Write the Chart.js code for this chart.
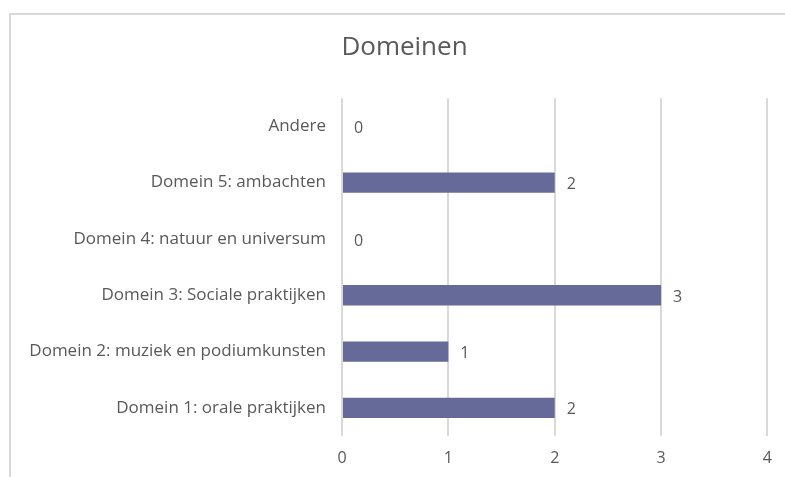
<!DOCTYPE html>
<html>
<head>
<meta charset="utf-8">
<script src="https://cdn.jsdelivr.net/npm/chart.js@4"></script>
<style>
  html, body { margin: 0; padding: 0; background: #fff; }
  #wrap { position: relative; width: 785px; height: 477px; overflow: hidden; }
  #frame { position: absolute; left: 9px; top: 13px; width: 800px; height: 500px;
           border-left: 2px solid #d9d9d9; border-top: 2px solid #d9d9d9; }
  canvas { position: absolute; left: 0; top: 0; }
</style>
</head>
<body>
<div id="wrap">
  <div id="frame"></div>
  <canvas id="domChart" width="785" height="477"></canvas>
</div>
<script>
const categories = [
    "Andere",
    "Domein 5: ambachten",
    "Domein 4: natuur en universum",
    "Domein 3: Sociale praktijken",
    "Domein 2: muziek en podiumkunsten",
    "Domein 1: orale praktijken"
];
const counts = [0, 2, 0, 3, 1, 2];
const xTicks = [0, 1, 2, 3, 4];

const textColor = "#595959";
const fontName = "'Open Sans', sans-serif";

// write the value just right of every bar end
const valueLabels = {
    id: "valueLabels",
    afterDatasetsDraw(chart) {
        const ctx = chart.ctx;
        const meta = chart.getDatasetMeta(0);
        ctx.save();
        ctx.fillStyle = textColor;
        ctx.font = "16px " + fontName;
        ctx.textAlign = "left";
        ctx.textBaseline = "middle";
        meta.data.forEach((bar, i) => {
            ctx.fillText(String(counts[i]), bar.x + 12, bar.y + 2);
        });
        ctx.restore();
    }
};

// the title sits a bit right of the canvas centre in the original
const shiftTitle = {
    id: "shiftTitle",
    afterLayout(chart) {
        if (chart.titleBlock) {
            chart.titleBlock.left = 41;
        }
    }
};

new Chart("domChart", {
    type: "bar",
    data: {
        labels: categories,
        datasets: [{
            data: counts,
            backgroundColor: "#656a99",
            barPercentage: 0.36,
            categoryPercentage: 1
        }]
    },
    plugins: [valueLabels, shiftTitle],
    options: {
        indexAxis: "y",
        responsive: false,
        animation: false,
        layout: { padding: { left: 0, right: 17, top: 0, bottom: 0 } },
        plugins: {
            legend: { display: false },
            tooltip: { enabled: false },
            title: {
                display: true,
                text: "Domeinen",
                color: textColor,
                font: { family: fontName, size: 26, weight: "normal" },
                padding: { top: 32, bottom: 35 }
            }
        },
        scales: {
            x: {
                min: 0,
                max: 4,
                afterBuildTicks(scale) {
                    scale.ticks = xTicks.map(v => ({ value: v }));
                },
                afterFit(scale) { scale.height = 41; },
                grid: { color: "#d9d9d9", lineWidth: 2, drawTicks: false },
                border: { display: false },
                ticks: {
                    color: textColor,
                    padding: 13,
                    font: { family: fontName, size: 16 }
                }
            },
            y: {
                afterFit(scale) { scale.width = 342; },
                grid: { display: false, drawTicks: false },
                border: { display: false },
                ticks: {
                    color: textColor,
                    padding: 16,
                    font: { family: fontName, size: 17 }
                }
            }
        }
    }
});
</script>
</body>
</html>
